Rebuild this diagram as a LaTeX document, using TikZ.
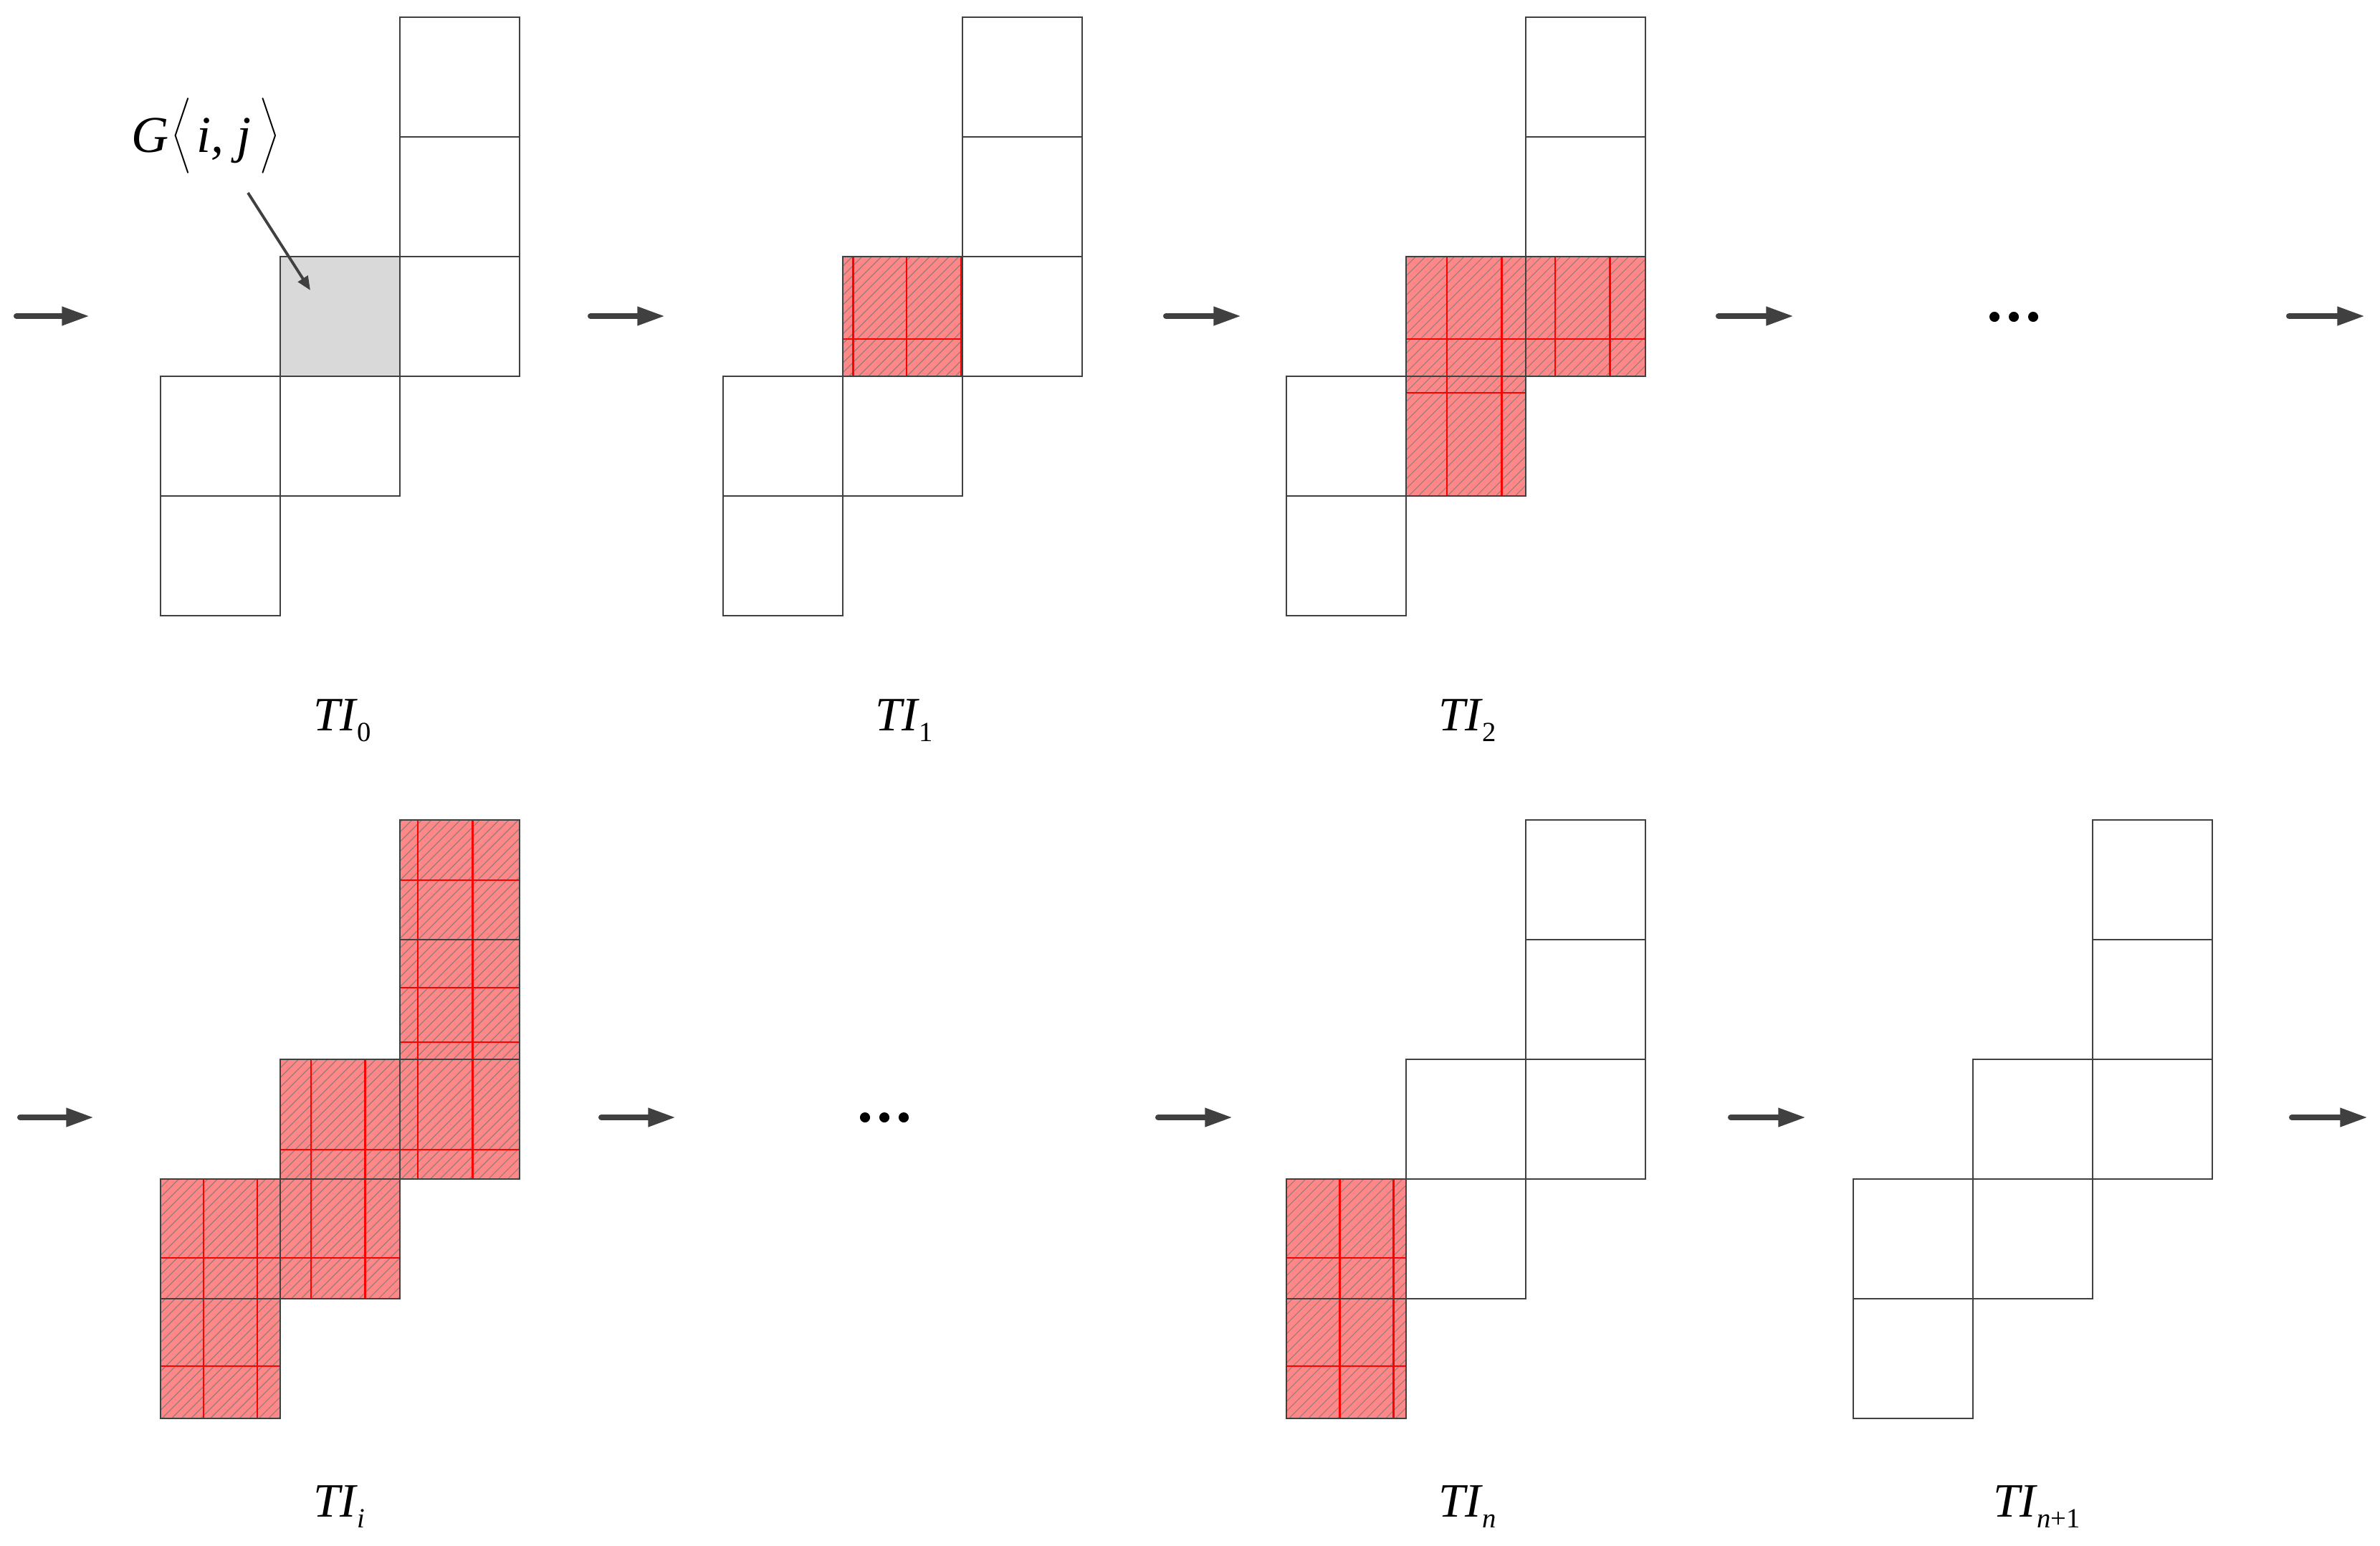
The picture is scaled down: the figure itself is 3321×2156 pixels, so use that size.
\documentclass[tikz,border=0pt]{standalone}
\usepackage{fontspec}
\usepackage{graphicx}
\setmainfont{Liberation Serif}
\usetikzlibrary{arrows.meta}
\definecolor{edgec}{HTML}{404040}
\definecolor{cellgray}{HTML}{D9D9D9}
\definecolor{redfill}{RGB}{255,135,135}
\definecolor{hatchc}{RGB}{150,125,125}
\definecolor{seamc}{RGB}{255,0,0}
\newcommand\tilab[1]{{\fontsize{19}{19}\selectfont\itshape TI}\kern0.3pt\raisebox{-4.5pt}{\fontsize{11}{11}\selectfont #1}}
\newcommand\drawpanel[2]{%
  \foreach \c/\r in {2/0,2/1,2/2,1/2,1/3,0/3,0/4}
    \draw[cellbox] ({#1+\c*167},{#2+\r*167}) rectangle ++(167,167);}
\newcommand\hatchbox[4]{%
  \pgfmathsetmacro\hh{#4-#2}%
  \pgfmathsetmacro\hstart{#1-\hh}%
  \pgfmathsetmacro\hnext{\hstart+13.5}%
  \foreach \hx in {\hstart,\hnext,...,#3} \draw[hatchline] (\hx,#4) -- ++(\hh,-\hh);}
\newcommand\lbrk{{\boldmath\scalebox{1.05}[1.25]{$\left\langle\vrule height 18pt depth 7pt width 0pt\right.$}}}
\newcommand\rbrk{{\boldmath\scalebox{1.05}[1.25]{$\left.\vrule height 18pt depth 7pt width 0pt\right\rangle$}}}
\tikzset{
  cellbox/.style={draw=edgec, line width=0.6pt},
  bigarrow/.style={draw=edgec, line width=2.3pt, line cap=round, -{Triangle[length=11pt,width=7pt]}},
  ptrarrow/.style={draw=edgec, line width=1.1pt, -{Triangle[length=5.5pt,width=4.5pt]}},
  hatchline/.style={draw=hatchc, line width=0.32pt},
  seamthin/.style={draw=seamc, line width=0.4pt},
  seamthick/.style={draw=seamc, line width=0.85pt},
  lab/.style={anchor=base west, inner sep=0pt},
  dotmark/.style={circle, fill=black, inner sep=0pt, minimum size=4pt},
}
\begin{document}
\begin{tikzpicture}[x=0.01cm, y=-0.01cm]
\useasboundingbox (0,0) rectangle (3321,2156);

% ---------- TI_0 ----------
\fill[cellgray] (391,358) rectangle (558,525);
\drawpanel{224}{24}
\node[lab] (Glab) at (183,212) {\fontsize{20.5}{20.5}\selectfont\itshape G\kern1pt\lbrk\kern1pt i, j\kern2pt\rbrk};
\coordinate (gs) at (346,269);
\coordinate (gt) at (433,405);
\draw[ptrarrow] (gs) -- (gt);
\node[lab] (TI0) at (437,1019) {\tilab{0}};

% ---------- TI_1 ----------
\begin{scope}
  \clip (1176,358) rectangle (1343,525);
  \fill[redfill] (1176,358) rectangle (1343,525);
  \hatchbox{1176}{358}{1343}{525}
  \draw[seamthick] (1190,358) -- (1190,525);
  \draw[seamthin] (1265,358) -- (1265,525);
  \draw[seamthick] (1341,358) -- (1341,525);
  \draw[seamthin] (1176,473) -- (1343,473);
\end{scope}
\drawpanel{1009}{24}
\node[lab] (TI1) at (1221,1019) {\tilab{1}};

% ---------- TI_2 ----------
\begin{scope}
  \clip (1962,358) -- (2296,358) -- (2296,525) -- (2129,525) -- (2129,692) -- (1962,692) -- cycle;
  \fill[redfill] (1962,358) rectangle (2296,692);
  \hatchbox{1962}{358}{2296}{692}
  \draw[seamthin] (2019,358) -- (2019,692);
  \draw[seamthick] (2095,358) -- (2095,692);
  \draw[seamthin] (2170,358) -- (2170,692);
  \draw[seamthick] (2246,358) -- (2246,692);
  \draw[seamthin] (1962,473) -- (2296,473);
  \draw[seamthin] (1962,548) -- (2296,548);
\end{scope}
\drawpanel{1795}{24}
\node[lab] (TI2) at (2007,1019) {\tilab{2}};

% ---------- TI_i ----------
\begin{scope}
  \clip (558,1144) -- (725,1144) -- (725,1645) -- (558,1645) -- (558,1812) -- (391,1812) -- (391,1979) -- (224,1979) -- (224,1645) -- (391,1645) -- (391,1478) -- (558,1478) -- cycle;
  \fill[redfill] (224,1144) rectangle (725,1979);
  \hatchbox{224}{1144}{725}{1979}
  \draw[seamthin] (284,1144) -- (284,1979);
  \draw[seamthick] (359,1144) -- (359,1979);
  \draw[seamthin] (434,1144) -- (434,1979);
  \draw[seamthick] (509,1144) -- (509,1979);
  \draw[seamthin] (583,1144) -- (583,1979);
  \draw[seamthick] (659,1144) -- (659,1979);
  \foreach \yy in {1228,1378,1454,1604,1755,1906}
    \draw[seamthin] (224,\yy) -- (725,\yy);
\end{scope}
\drawpanel{224}{1144}
\node[lab] (TIi) at (437,2116) {\tilab{\itshape i}};

% ---------- TI_n ----------
\begin{scope}
  \clip (1795,1645) rectangle (1962,1979);
  \fill[redfill] (1795,1645) rectangle (1962,1979);
  \hatchbox{1795}{1645}{1962}{1979}
  \draw[seamthick] (1869,1645) -- (1869,1979);
  \draw[seamthick] (1944,1645) -- (1944,1979);
  \draw[seamthin] (1795,1755) -- (1962,1755);
  \draw[seamthin] (1795,1906) -- (1962,1906);
\end{scope}
\drawpanel{1795}{1144}
\node[lab] (TIn) at (2007,2116) {\tilab{\itshape n}};

% ---------- TI_{n+1} ----------
\drawpanel{2586}{1144}
\node[lab] (TIn1) at (2781,2116) {\tilab{{\itshape n}+1}};

% ---------- ellipses ----------
\node[dotmark] (d1) at (2783,442) {};
\node[dotmark] (d2) at (2810,442) {};
\node[dotmark] (d3) at (2837,442) {};
\node[dotmark] (e1) at (1207,1559) {};
\node[dotmark] (e2) at (1234,1559) {};
\node[dotmark] (e3) at (1261,1559) {};

% ---------- flow arrows ----------
\foreach \n/\a/\b in {1/23/125, 2/824/928, 3/1627/1732, 4/2398/2503, 5/3194/3300}{
  \coordinate (ta\n s) at (\a,441);
  \coordinate (ta\n e) at (\b,441);
  \draw[bigarrow] (ta\n s) -- (ta\n e);
}
\foreach \n/\a/\b in {1/28/131, 2/839/943, 3/1616/1720, 4/2415/2520, 5/3198/3304}{
  \coordinate (ba\n s) at (\a,1559);
  \coordinate (ba\n e) at (\b,1559);
  \draw[bigarrow] (ba\n s) -- (ba\n e);
}
\end{tikzpicture}
\end{document}
